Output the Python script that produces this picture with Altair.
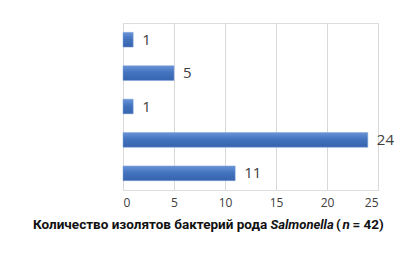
import altair as alt
import pandas as pd

categories = ["Группа 1", "Группа 2", "Группа 3", "Группа 4", "Группа 5"]
values = [1, 5, 1, 24, 11]
x_ticks = [0, 5, 10, 15, 20, 25]

title_parts = ["Количество изолятов бактерий рода", "Salmonella", "(", "n", "= 42)"]
title_styles = ["normal", "italic", "normal", "italic", "normal"]
title_sizes = [13.5, 13, 13.5, 13.5, 13.5]
title_x = [-90, 147.5, 213, 219.5, 229.5]

df = pd.DataFrame({"cat": categories, "val": values})
tdf = pd.DataFrame({"t": title_parts, "s": title_styles, "x": title_x})

W, H = 255, 167

grad = alt.LinearGradient(
    gradient="linear",
    stops=[alt.GradientStop(color="#6893d6", offset=0),
           alt.GradientStop(color="#4474bf", offset=0.45),
           alt.GradientStop(color="#3763ae", offset=1)],
    x1=0, x2=0, y1=0, y2=1,
)

y_enc = alt.Y("cat:N", sort=categories, axis=None,
              scale=alt.Scale(paddingInner=0.56, paddingOuter=0.28))
x_enc = alt.X("val:Q", scale=alt.Scale(domain=[0, 25], nice=False),
              axis=alt.Axis(values=x_ticks, title=None, grid=True, gridColor="#d9d9d9",
                            gridWidth=1, domain=False, ticks=False, labelPadding=7,
                            labelFont="Open Sans", labelFontSize=12, labelColor="#404040"))

bars = alt.Chart(df).mark_bar(color=grad, stroke="#7fa3dc", strokeWidth=0.5).encode(x=x_enc, y=y_enc)
labels = alt.Chart(df).mark_text(align="left", baseline="middle", dx=9, font="Open Sans",
                                 fontSize=15, color="#404040").encode(
    x="val:Q", y=alt.Y("cat:N", sort=categories), text="val:Q")

parts = []
for i in range(len(title_parts)):
    parts.append(
        alt.Chart(tdf.iloc[[i]]).mark_text(align="left", baseline="alphabetic", font="Roboto",
                                          fontSize=title_sizes[i], fontWeight="bold", color="#111111",
                                          fontStyle=title_styles[i]).encode(
            x=alt.value(title_x[i]), y=alt.value(206), text="t:N")
    )

chart = alt.layer(bars, labels, *parts).properties(
    width=W, height=H,
    autosize=alt.AutoSizeParams(type="none"),
    padding={"left": 123, "top": 23, "right": 20, "bottom": 73},
).configure_view(stroke=None).configure(background="white")

chart.save("out.html", embed_options={"renderer": "svg", "actions": False})
